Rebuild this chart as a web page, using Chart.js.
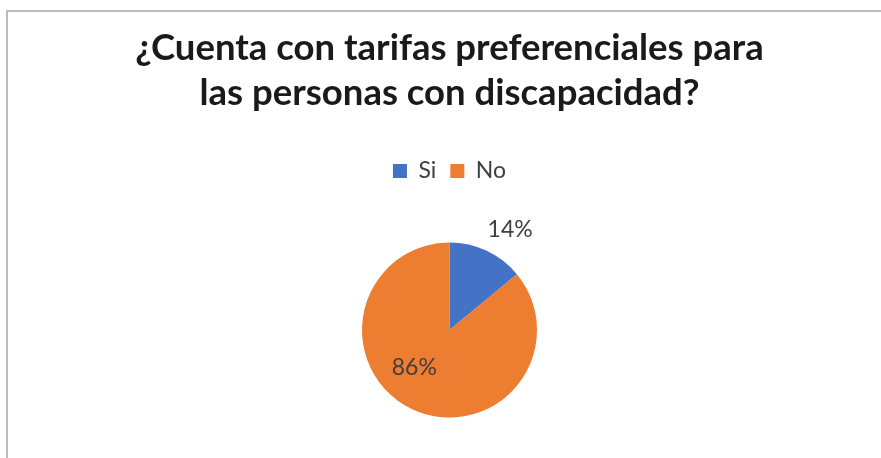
<!DOCTYPE html>
<html>
<head>
<meta charset="utf-8">
<script src="https://cdn.jsdelivr.net/npm/chart.js@4"></script>
<style>
  html, body { margin: 0; padding: 0; background: #fff; overflow: hidden; }
  body { width: 881px; height: 458px; position: relative; }
  #frame {
    position: absolute; left: 6px; top: 10px; width: 900px; height: 500px;
    border-left: 2px solid #bcbcbc; border-top: 2px solid #bcbcbc;
  }
  #wrap { position: absolute; left: 0; top: 0; width: 881px; height: 500px; }
</style>
</head>
<body>
<div id="frame"></div>
<div id="wrap"><canvas id="pie"></canvas></div>
<script>
// ── Data ──────────────────────────────────────────────────────────────────────

const TITLE   = ["¿Cuenta con tarifas preferenciales para", "las personas con discapacidad?"];
const LABELS  = ["Si", "No"];
const VALUES  = [14, 86];          // percent
const COLORS  = ["#4472C4", "#ED7D31"];

// label placement per slice: [radius factor, angle shift in degrees]
const LABEL_POS = [[1.345, 5.8], [0.59, 17.8]];

const FONT = "Lato, 'Open Sans', sans-serif";

// ── Percent labels ────────────────────────────────────────────────────────────

const pctLabels = {
  id: "pctLabels",
  afterDatasetsDraw(chart) {
    const { ctx } = chart;
    const meta = chart.getDatasetMeta(0);
    ctx.save();
    ctx.font = `23px ${FONT}`;
    ctx.fillStyle = "#404040";
    ctx.textAlign = "center";
    ctx.textBaseline = "middle";
    meta.data.forEach((arc, i) => {
      const { x, y, startAngle, endAngle, outerRadius } = arc.getProps(
        ["x", "y", "startAngle", "endAngle", "outerRadius"], true);
      const [f, shift] = LABEL_POS[i];
      const a = (startAngle + endAngle) / 2 + shift * Math.PI / 180;
      const r = outerRadius * f;
      ctx.fillText(`${VALUES[i]}%`, x + Math.cos(a) * r, y + Math.sin(a) * r);
    });
    ctx.restore();
  },
};

// ── Chart ─────────────────────────────────────────────────────────────────────

new Chart(document.getElementById("pie"), {
  type: "pie",
  data: {
    labels: LABELS,
    datasets: [{
      data: VALUES,
      backgroundColor: COLORS,
      borderWidth: 0,
      radius: 87.5,
    }],
  },
  options: {
    responsive: true,
    maintainAspectRatio: false,
    animation: false,
    layout: { padding: { left: 18, bottom: 32.5 } },
    plugins: {
      title: {
        display: true,
        text: TITLE,
        color: "#1a1a1a",
        font: { family: FONT, size: 36.5, weight: "bold", lineHeight: "45px" },
        padding: { top: 25.5, bottom: 30 },
      },
      legend: {
        position: "top",
        labels: {
          color: "#404040",
          font: { family: FONT, size: 23 },
          boxWidth: 14,
          boxHeight: 14,
          padding: 14,
        },
      },
      tooltip: { enabled: false },
    },
  },
  plugins: [pctLabels],
});
</script>
</body>
</html>
